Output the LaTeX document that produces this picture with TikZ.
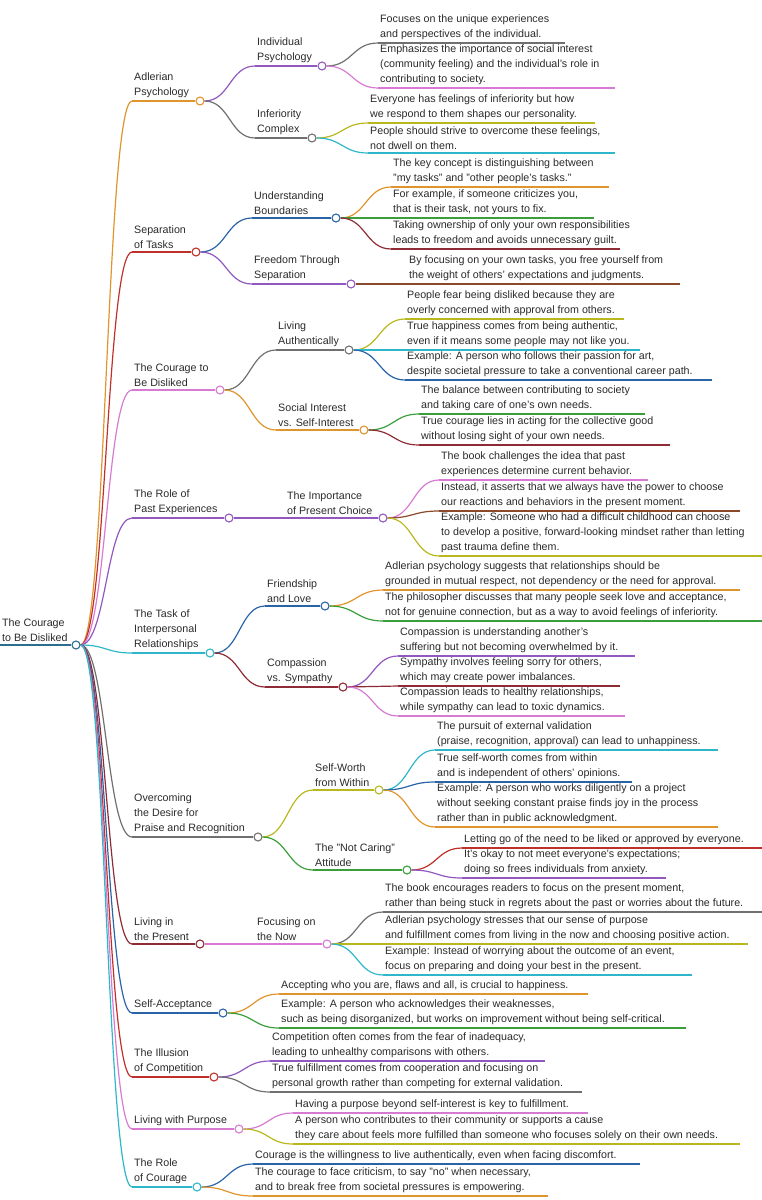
\documentclass[tikz,border=0pt]{standalone}
\usepackage{fontspec}
\setmainfont{Liberation Sans}
\definecolor{cOr}{HTML}{E0942C}
\definecolor{cRd}{HTML}{C0302A}
\definecolor{cPk}{HTML}{D77BD2}
\definecolor{cPu}{HTML}{9158C0}
\definecolor{cCy}{HTML}{2EB7C9}
\definecolor{cGy}{HTML}{707070}
\definecolor{cMr}{HTML}{8E2B35}
\definecolor{cBl}{HTML}{2A64A8}
\definecolor{cYg}{HTML}{B8B81E}
\definecolor{cGr}{HTML}{3A9E3A}
\definecolor{cBr}{HTML}{8A4A2A}
\definecolor{cTe}{HTML}{2A6F8F}
\definecolor{cTx}{HTML}{2A2A2A}
\tikzset{
 txt/.style={anchor=south west,align=left,inner xsep=2pt,inner ysep=3pt,text=cTx,font=\fontsize{10.7}{15}\selectfont},
 dot/.style={circle,fill=white,line width=1.1pt,minimum size=8pt,inner sep=0pt},
 br/.style={line width=1.2pt}
}
\newcommand{\sig}[4]{% parent, x, y, color
 \coordinate (tt) at (#2,#3);
 \path (#1.east) -- coordinate[pos=0.5] (mm) (tt);
 \draw[br,#4] (#1.east) .. controls (mm |- #1.east) and (mm |- tt) .. (tt);}
\newcommand{\mmid}[7]{%
 \node[dot,draw=#6] (#2) at (#5,#4) {};
 \sig{#1}{#3}{#4}{#6}
 \draw[br,#6] (#3,#4) -- (#2);
 \node[txt] at (#3,#4) {#7};}
\newcommand{\mleaf}[6]{%
 \sig{#1}{#2}{#3}{#5}
 \draw[br,#5] (#2,#3) -- (#4,#3);
 \node[txt] at (#2,#3) {#6};}
\begin{document}
\begin{tikzpicture}[x=1pt,y=-1pt]
\useasboundingbox (0,0) rectangle (762,1200);
% root
\node[dot,draw=cTe] (R) at (76,645) {};
\draw[br,cTe] (0,645) -- (R);
\node[txt] at (0,645) {The Courage\\to Be Disliked};
% 1 Adlerian
\mmid{R}{A}{132}{101}{200}{cOr}{Adlerian\\Psychology}
\mmid{A}{A1}{255}{66}{322}{cPu}{Individual\\Psychology}
\mleaf{A1}{378}{43}{565}{cGy}{Focuses on the unique experiences\\and perspectives of the individual.}
\mleaf{A1}{378}{88}{615}{cPk}{Emphasizes the importance of social interest\\(community feeling) and the individual's role in\\contributing to society.}
\mmid{A}{A2}{255}{138}{312}{cGy}{Inferiority\\Complex}
\mleaf{A2}{368}{123}{595}{cYg}{Everyone has feelings of inferiority but how\\we respond to them shapes our personality.}
\mleaf{A2}{368}{153}{615}{cCy}{People should strive to overcome these feelings,\\not dwell on them.}
% 2 Separation
\mmid{R}{B}{132}{252}{196}{cRd}{Separation\\of Tasks}
\mmid{B}{B1}{252}{218}{336}{cBl}{Understanding\\Boundaries}
\mleaf{B1}{391}{187}{609}{cOr}{The key concept is distinguishing between\\"my tasks" and "other people's tasks."}
\mleaf{B1}{391}{218}{594}{cGr}{For example, if someone criticizes you,\\that is their task, not yours to fix.}
\mleaf{B1}{391}{249}{620}{cMr}{Taking ownership of only your own responsibilities\\leads to freedom and avoids unnecessary guilt.}
\mmid{B}{B2}{252}{284}{351}{cPu}{Freedom Through\\Separation}
\mleaf{B2}{407}{284}{680}{cBr}{By focusing on your own tasks, you free yourself from\\the weight of others' expectations and judgments.}
% 3 Courage
\mmid{R}{C}{132}{390}{220}{cPk}{The Courage to\\Be Disliked}
\mmid{C}{C1}{276}{350}{349}{cGy}{Living\\Authentically}
\mleaf{C1}{405}{319}{624}{cYg}{People fear being disliked because they are\\overly concerned with approval from others.}
\mleaf{C1}{405}{350}{640}{cCy}{True happiness comes from being authentic,\\even if it means some people may not like you.}
\mleaf{C1}{405}{380}{712}{cBl}{Example: A person who follows their passion for art,\\despite societal pressure to take a conventional career path.}
\mmid{C}{C2}{276}{430}{364}{cOr}{Social Interest\\vs. Self-Interest}
\mleaf{C2}{419}{414}{645}{cGr}{The balance between contributing to society\\and taking care of one's own needs.}
\mleaf{C2}{419}{445}{670}{cMr}{True courage lies in acting for the collective good\\without losing sight of your own needs.}
% 4 Past
\mmid{R}{D}{132}{518}{229}{cPu}{The Role of\\Past Experiences}
\mmid{D}{D1}{285}{518}{383}{cPu}{The Importance\\of Present Choice}
\mleaf{D1}{439}{480}{648}{cPk}{The book challenges the idea that past\\experiences determine current behavior.}
\mleaf{D1}{439}{511}{740}{cBr}{Instead, it asserts that we always have the power to choose\\our reactions and behaviors in the present moment.}
\mleaf{D1}{439}{556}{762}{cYg}{Example: Someone who had a difficult childhood can choose\\to develop a positive, forward-looking mindset rather than letting\\past trauma define them.}
% 5 Interpersonal
\mmid{R}{E}{132}{653}{210}{cCy}{The Task of\\Interpersonal\\Relationships}
\mmid{E}{E1}{265}{606}{325}{cBl}{Friendship\\and Love}
\mleaf{E1}{383}{590}{740}{cOr}{Adlerian psychology suggests that relationships should be\\grounded in mutual respect, not dependency or the need for approval.}
\mleaf{E1}{383}{621}{762}{cGr}{The philosopher discusses that many people seek love and acceptance,\\not for genuine connection, but as a way to avoid feelings of inferiority.}
\mmid{E}{E2}{265}{687}{343}{cMr}{Compassion\\vs. Sympathy}
\mleaf{E2}{398}{656}{635}{cPu}{Compassion is understanding another's\\suffering but not becoming overwhelmed by it.}
\mleaf{E2}{398}{686}{620}{cMr}{Sympathy involves feeling sorry for others,\\which may create power imbalances.}
\mleaf{E2}{398}{716}{625}{cPk}{Compassion leads to healthy relationships,\\while sympathy can lead to toxic dynamics.}
% 6 Overcoming
\mmid{R}{F}{132}{837}{258}{cGy}{Overcoming\\the Desire for\\Praise and Recognition}
\mmid{F}{F1}{313}{790}{379}{cYg}{Self-Worth\\from Within}
\mleaf{F1}{435}{750}{718}{cCy}{The pursuit of external validation\\(praise, recognition, approval) can lead to unhappiness.}
\mleaf{F1}{435}{782}{632}{cBl}{True self-worth comes from within\\and is independent of others' opinions.}
\mleaf{F1}{435}{827}{718}{cOr}{Example: A person who works diligently on a project\\without seeking constant praise finds joy in the process\\rather than in public acknowledgment.}
\mmid{F}{F2}{313}{870}{407}{cGr}{The "Not Caring"\\Attitude}
\mleaf{F2}{462}{848}{762}{cRd}{Letting go of the need to be liked or approved by everyone.}
\mleaf{F2}{462}{878}{666}{cPu}{It's okay to not meet everyone's expectations;\\doing so frees individuals from anxiety.}
% 7 Present
\mmid{R}{G}{132}{944}{200}{cMr}{Living in\\the Present}
\mmid{G}{G1}{255}{944}{327}{cPk}{Focusing on\\the Now}
\mleaf{G1}{383}{912}{762}{cGy}{The book encourages readers to focus on the present moment,\\rather than being stuck in regrets about the past or worries about the future.}
\mleaf{G1}{383}{944}{748}{cYg}{Adlerian psychology stresses that our sense of purpose\\and fulfillment comes from living in the now and choosing positive action.}
\mleaf{G1}{383}{975}{692}{cCy}{Example: Instead of worrying about the outcome of an event,\\focus on preparing and doing your best in the present.}
% 8 Self-acceptance
\mmid{R}{H}{132}{1013}{223}{cBl}{Self-Acceptance}
\mleaf{H}{279}{994}{588}{cOr}{Accepting who you are, flaws and all, is crucial to happiness.}
\mleaf{H}{279}{1028}{686}{cGr}{Example: A person who acknowledges their weaknesses,\\such as being disorganized, but works on improvement without being self-critical.}
% 9 Competition
\mmid{R}{I}{132}{1077}{214}{cRd}{The Illusion\\of Competition}
\mleaf{I}{270}{1061}{545}{cPu}{Competition often comes from the fear of inadequacy,\\leading to unhealthy comparisons with others.}
\mleaf{I}{270}{1092}{582}{cGy}{True fulfillment comes from cooperation and focusing on\\personal growth rather than competing for external validation.}
% 10 Purpose
\mmid{R}{J}{132}{1129}{239}{cPk}{Living with Purpose}
\mleaf{J}{293}{1113}{588}{cPk}{Having a purpose beyond self-interest is key to fulfillment.}
\mleaf{J}{293}{1144}{740}{cYg}{A person who contributes to their community or supports a cause\\they care about feels more fulfilled than someone who focuses solely on their own needs.}
% 11 Courage
\mmid{R}{K}{132}{1187}{197}{cCy}{The Role\\of Courage}
\mleaf{K}{253}{1164}{640}{cBl}{Courage is the willingness to live authentically, even when facing discomfort.}
\mleaf{K}{253}{1196}{548}{cOr}{The courage to face criticism, to say "no" when necessary,\\and to break free from societal pressures is empowering.}
\end{tikzpicture}
\end{document}
